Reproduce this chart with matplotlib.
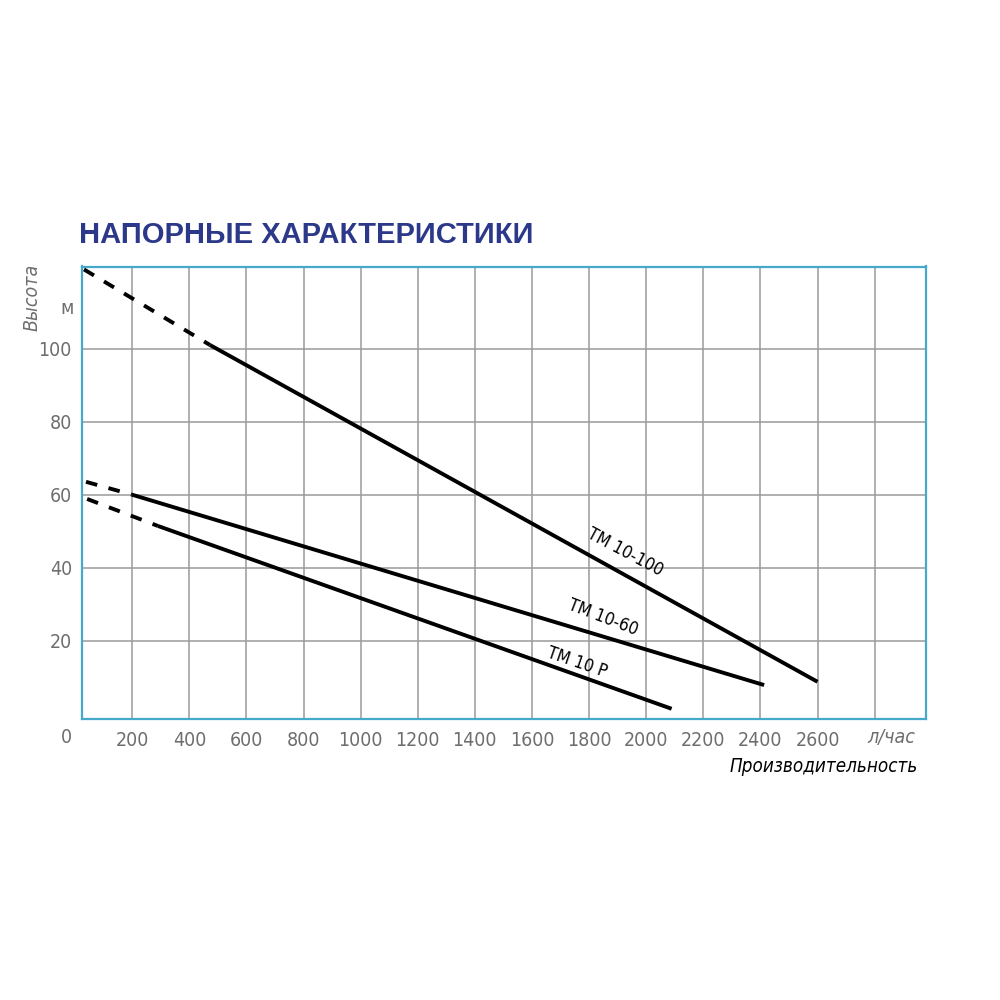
import matplotlib
matplotlib.use("Agg")
import matplotlib.pyplot as plt
from matplotlib import font_manager

# шрифт: узкий, если есть
names = {f.name for f in font_manager.fontManager.ttflist}
narrow = "Liberation Sans Narrow" if "Liberation Sans Narrow" in names else "DejaVu Sans"
plt.rcParams["font.family"] = [narrow, "DejaVu Sans"]
plt.rcParams["font.stretch"] = "condensed"

# Данные (л/час, м)
tm100_dash_q = [31, 472]
tm100_dash_h = [121.7, 101.0]
tm100_q = [472, 2600]
tm100_h = [101.0, 8.7]

tm60_dash_q = [38, 198]
tm60_dash_h = [63.5, 60.0]
tm60_q = [198, 2413]
tm60_h = [60.0, 7.8]

tmp_dash_q = [42, 290]
tmp_dash_h = [58.8, 51.4]
tmp_q = [290, 2089]
tmp_h = [51.4, 1.3]

x_ticks = [200, 400, 600, 800, 1000, 1200, 1400, 1600, 1800, 2000, 2200, 2400, 2600]
x_grid = x_ticks + [2800]
y_ticks = [20, 40, 60, 80, 100]

labels = ["TM 10-100", "TM 10-60", "TM 10 P"]
label_q = [1926, 1848, 1757]
label_h = [44.3, 26.2, 13.9]
label_rot = [-28, -21, -19]

gray = "#6e6e6e"
frame = "#45a9cb"
navy = "#2c3889"

fig = plt.figure(figsize=(10, 10), dpi=100)
ax = fig.add_axes([0.0817, 0.281, 0.8443, 0.4525])
ax.set_xlim(23, 2980)
ax.set_ylim(-1.5, 122.5)

for q in x_grid:
    ax.axvline(q, color="#9a9a9a", lw=1.1, zorder=1)
for h in y_ticks:
    ax.axhline(h, color="#9a9a9a", lw=1.1, zorder=1)

dash = (0, (3.0, 3.0))
lw = 2.8
ax.plot(tm100_dash_q, tm100_dash_h, color="black", lw=lw, ls=dash, zorder=3)
ax.plot(tm100_q, tm100_h, color="black", lw=lw, zorder=3, solid_capstyle="butt")
ax.plot(tm60_dash_q, tm60_dash_h, color="black", lw=lw, ls=dash, zorder=3)
ax.plot(tm60_q, tm60_h, color="black", lw=lw, zorder=3, solid_capstyle="butt")
ax.plot(tmp_dash_q, tmp_dash_h, color="black", lw=lw, ls=dash, zorder=3)
ax.plot(tmp_q, tmp_h, color="black", lw=lw, zorder=3, solid_capstyle="butt")

for t, q, h, r in zip(labels, label_q, label_h, label_rot):
    ax.text(q, h, t, rotation=r, ha="center", va="center", fontsize=12.5,
            rotation_mode="anchor", color="black")

ax.set_xticks(x_ticks)
ax.set_yticks(y_ticks)
ax.tick_params(length=0, labelsize=14, labelcolor=gray)
ax.tick_params(axis="x", pad=9)
ax.tick_params(axis="y", pad=7)

for s in ax.spines.values():
    s.set_color(frame)
    s.set_linewidth(1.6)

# подписи
ax.text(-29, -6.5, "0", ha="center", va="center", fontsize=14, color=gray, clip_on=False)
ax.text(2858, -6.5, "л/час", ha="center", va="center", fontsize=14, color=gray,
        style="italic", clip_on=False)
ax.text(2950, -14.5, "Производительность", ha="right", va="center", fontsize=13.5,
        color="black", style="italic", clip_on=False)
ax.text(-29, 111, "м", ha="center", va="center", fontsize=14, color=gray, clip_on=False)
ax.text(-150, 114, "Высота", ha="center", va="center", fontsize=14, color=gray,
        style="italic", rotation=90, clip_on=False)

fig.text(0.079, 0.765, "НАПОРНЫЕ ХАРАКТЕРИСТИКИ", fontsize=21, fontweight="bold",
         color=navy, family=["Liberation Sans", "DejaVu Sans"], fontstretch="normal",
         ha="left", va="center")

fig.savefig("out.png", dpi=100)
